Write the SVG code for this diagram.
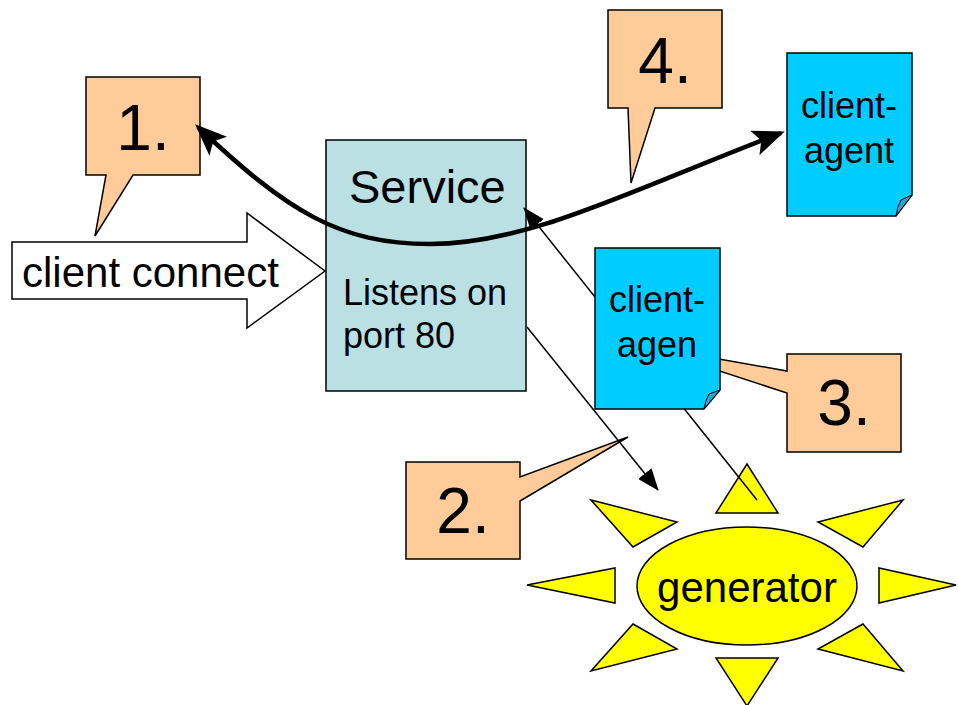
<svg xmlns="http://www.w3.org/2000/svg" width="958" height="705" viewBox="0 0 958 705">
<style>
text{font-family:"Liberation Sans",Arial,sans-serif;fill:#000}
.callout{fill:#FFCC99;stroke:#000;stroke-width:1.5;stroke-linejoin:miter}
.num{font-size:64px;text-anchor:middle}
.doc{fill:#00CCFF;stroke:#000;stroke-width:1.5}
.fold{fill:#2AA8CC;stroke:#000;stroke-width:1}
.doctext{font-size:36px;text-anchor:middle}
.ray{fill:#FFFF00;stroke:#000;stroke-width:1.5}
.thin{fill:none;stroke:#000;stroke-width:1.5}
.thick{fill:none;stroke:#000;stroke-width:4.5}
</style>
<defs>
<marker id="bigHead" markerUnits="userSpaceOnUse" viewBox="0 0 32 26" refX="28" refY="13" markerWidth="32" markerHeight="26" orient="auto-start-reverse">
<path d="M0,0 L32,13 L0,26 L7,13 z" fill="#000"/>
</marker>
<marker id="smallHead" markerUnits="userSpaceOnUse" viewBox="0 0 22 17" refX="21" refY="8.5" markerWidth="22" markerHeight="17" orient="auto-start-reverse">
<path d="M0,0 L22,8.5 L0,17 z" fill="#000"/>
</marker>
</defs>
<rect width="958" height="705" fill="#fff"/>

<g id="callout1">
<path class="callout" d="M86,77 H200 V175 H133 L95,236 L106,175 H86 Z"/>
<text class="num" x="143" y="150">1.</text>
</g>

<g id="callout4">
<path class="callout" d="M608,10 H722 V108 H655 L631,183 L628,108 H608 Z"/>
<text class="num" x="665" y="83">4.</text>
</g>

<g id="callout2">
<path class="callout" d="M406,462 H520 V477 L628,437 L520,501 V559 H406 Z"/>
<text class="num" x="463" y="533">2.</text>
</g>

<g id="clientConnect">
<path d="M12,242 H247 V213 L325,271 L247,328 V299 H12 Z" fill="#fff" stroke="#000" stroke-width="1.5"/>
<text x="22" y="287" font-size="42">client connect</text>
</g>

<g id="service">
<rect x="326" y="140" width="200" height="251" fill="#BBE0E3" stroke="#000" stroke-width="1.5"/>
<text x="349" y="203" font-size="47">Service</text>
<text x="343" y="305" font-size="36">Listens on</text>
<text x="343" y="348" font-size="36">port 80</text>
</g>

<g id="clientAgentTop">
<path class="doc" d="M787,53 H912 V195 L896,216 H787 Z"/>
<path class="fold" d="M912,195 L901,200 Q897,207 896,216 Z"/>
<text class="doctext" x="849" y="118">client-</text>
<text class="doctext" x="849" y="163">agent</text>
</g>

<g id="generator">
<polygon class="ray" points="747,464 778,513 716,513"/>
<polygon class="ray" points="591,500 677,522 633,547"/>
<polygon class="ray" points="903,500 818,522 863,547"/>
<polygon class="ray" points="527,585 615,568 615,603"/>
<polygon class="ray" points="956,585 879,568 879,603"/>
<polygon class="ray" points="633,624 677,649 591,671"/>
<polygon class="ray" points="863,624 818,649 903,671"/>
<polygon class="ray" points="716,658 778,658 747,706"/>
<ellipse class="ray" cx="747" cy="586" rx="110" ry="59"/>
<text x="747" y="602" font-size="42" text-anchor="middle">generator</text>
</g>

<g id="connectors">
<path class="thick" d="M198,127 C288,212 340,244 430,244 C530,244 631,190 781,133" marker-start="url(#bigHead)" marker-end="url(#bigHead)"/>
<line class="thin" x1="527" y1="327" x2="658" y2="490" marker-end="url(#smallHead)"/>
<line class="thin" x1="524" y1="208" x2="757" y2="500" marker-start="url(#smallHead)"/>
</g>

<g id="callout3">
<path class="callout" d="M787,354 H901 V452 H787 V393 L640,345 L787,371 Z"/>
<text class="num" x="844" y="425">3.</text>
</g>

<g id="clientAgen">
<path class="doc" d="M595,248 H720 V390 L704,409 H595 Z"/>
<path class="fold" d="M720,390 L709,394 Q705,401 704,409 Z"/>
<text class="doctext" x="657" y="312">client-</text>
<text class="doctext" x="657" y="357">agen</text>
</g>
</svg>
